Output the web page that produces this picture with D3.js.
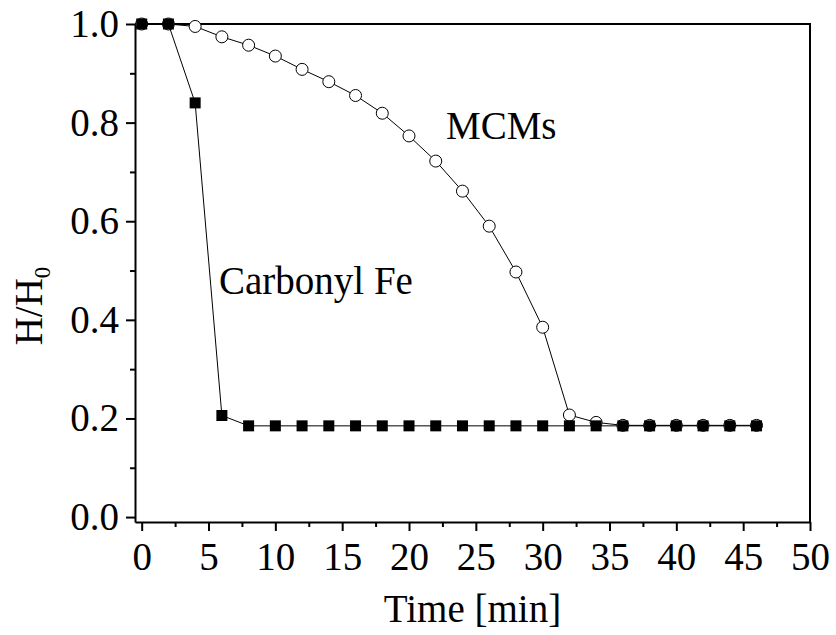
<!DOCTYPE html>
<html>
<head>
<meta charset="utf-8">
<script src="https://cdn.jsdelivr.net/npm/d3@7"></script>
<style>
  body { margin: 0; background: #fff; }
</style>
</head>
<body>
<div class="chart"></div>
<script>
const time = [0, 2, 4, 6, 8, 10, 12, 14, 16, 18, 20, 22, 24, 26, 28, 30, 32, 34, 36, 38, 40, 42, 44, 46];
const carbonylFe = [1.0, 1.0, 0.84, 0.206, 0.185, 0.185, 0.185, 0.185, 0.185, 0.185, 0.185, 0.185,
    0.185, 0.185, 0.185, 0.185, 0.185, 0.185, 0.185, 0.185, 0.185, 0.185, 0.185, 0.185];
const mcms = [1.0, 1.0, 0.995, 0.974, 0.957, 0.935, 0.908, 0.883, 0.855, 0.819, 0.773, 0.722,
    0.661, 0.59, 0.497, 0.385, 0.207, 0.192, 0.186, 0.186, 0.186, 0.186, 0.186, 0.186];
const xTicks = [0, 5, 10, 15, 20, 25, 30, 35, 40, 45, 50];
const yTicks = [0.0, 0.2, 0.4, 0.6, 0.8, 1.0];

const width = 836, height = 635;
const plot = { left: 135, right: 810, top: 24, bottom: 522 };
const serif = "Liberation Serif";
const fs = 39;

const svg = d3.select(".chart").append("svg")
    .attr("width", width)
    .attr("height", height);

const x = d3.scaleLinear().domain([-0.5, 50]).range([plot.left, plot.right]);
const y = d3.scaleLinear().domain([-0.01, 1.0]).range([plot.bottom, plot.top]);

// minor ticks
const xMinor = d3.range(0, 50.1, 2.5).filter(v => v % 5 !== 0);
const yMinor = d3.range(0.1, 1.0, 0.2);

const xAxis = d3.axisBottom(x).tickValues(xTicks).tickSize(9).tickSizeOuter(0).tickPadding(3)
    .tickFormat(d3.format("d"));
const yAxis = d3.axisLeft(y).tickValues(yTicks).tickSize(9).tickSizeOuter(0).tickPadding(7)
    .tickFormat(d3.format(".1f"));

const gx = svg.append("g")
    .attr("transform", `translate(0,${plot.bottom})`)
    .call(xAxis);
gx.selectAll(".tick text").attr("font-size", fs).attr("dy", "0.92em");

svg.append("g")
    .attr("transform", `translate(0,${plot.bottom})`)
    .call(d3.axisBottom(x).tickValues(xMinor).tickSize(5).tickSizeOuter(0).tickFormat(""))
    .select(".domain").remove();

const gy = svg.append("g")
    .attr("transform", `translate(${plot.left},0)`)
    .call(yAxis);
gy.selectAll(".tick text").attr("font-size", fs).attr("dy", "0.32em");

svg.append("g")
    .attr("transform", `translate(${plot.left},0)`)
    .call(d3.axisLeft(y).tickValues(yMinor).tickSize(5).tickSizeOuter(0).tickFormat(""))
    .select(".domain").remove();

svg.selectAll(".domain, .tick line").attr("stroke", "#000").attr("stroke-width", 2);
svg.selectAll(".tick text").attr("fill", "#000").attr("font-family", serif);

// frame top and right
svg.append("path")
    .attr("d", `M${plot.left},${plot.top}H${plot.right}V${plot.bottom}`)
    .attr("fill", "none")
    .attr("stroke", "#000")
    .attr("stroke-width", 2);

const line = d3.line().x((d, i) => x(time[i])).y(d => y(d));

// MCMs (open circles)
svg.append("path")
    .datum(mcms)
    .attr("d", line)
    .attr("fill", "none")
    .attr("stroke", "#000")
    .attr("stroke-width", 1);

svg.append("g")
    .selectAll("circle")
    .data(mcms)
    .enter()
    .append("circle")
    .attr("cx", (d, i) => x(time[i]))
    .attr("cy", d => y(d))
    .attr("r", 6)
    .attr("fill", "#fff")
    .attr("stroke", "#000")
    .attr("stroke-width", 1);

// Carbonyl Fe (filled squares)
svg.append("path")
    .datum(carbonylFe)
    .attr("d", line)
    .attr("fill", "none")
    .attr("stroke", "#000")
    .attr("stroke-width", 1);

const sq = 11;
svg.append("g")
    .selectAll("rect")
    .data(carbonylFe)
    .enter()
    .append("rect")
    .attr("x", (d, i) => x(time[i]) - sq / 2)
    .attr("y", d => y(d) - sq / 2)
    .attr("width", sq)
    .attr("height", sq)
    .attr("fill", "#000");

// annotations
svg.append("text")
    .attr("x", 446)
    .attr("y", 139)
    .attr("font-family", serif)
    .attr("font-size", fs)
    .text("MCMs");

svg.append("text")
    .attr("x", 219)
    .attr("y", 294)
    .attr("font-family", serif)
    .attr("font-size", fs)
    .text("Carbonyl Fe");

// axis titles
svg.append("text")
    .attr("x", (plot.left + plot.right) / 2)
    .attr("y", 622)
    .attr("text-anchor", "middle")
    .attr("font-family", serif)
    .attr("font-size", fs)
    .text("Time [min]");

const yl = svg.append("text")
    .attr("transform", "translate(42,306) rotate(-90)")
    .attr("text-anchor", "middle")
    .attr("font-family", serif)
    .attr("font-size", fs);
yl.append("tspan").text("H/H");
yl.append("tspan").attr("font-size", 23).attr("dy", 8).text("0");
</script>
</body>
</html>
